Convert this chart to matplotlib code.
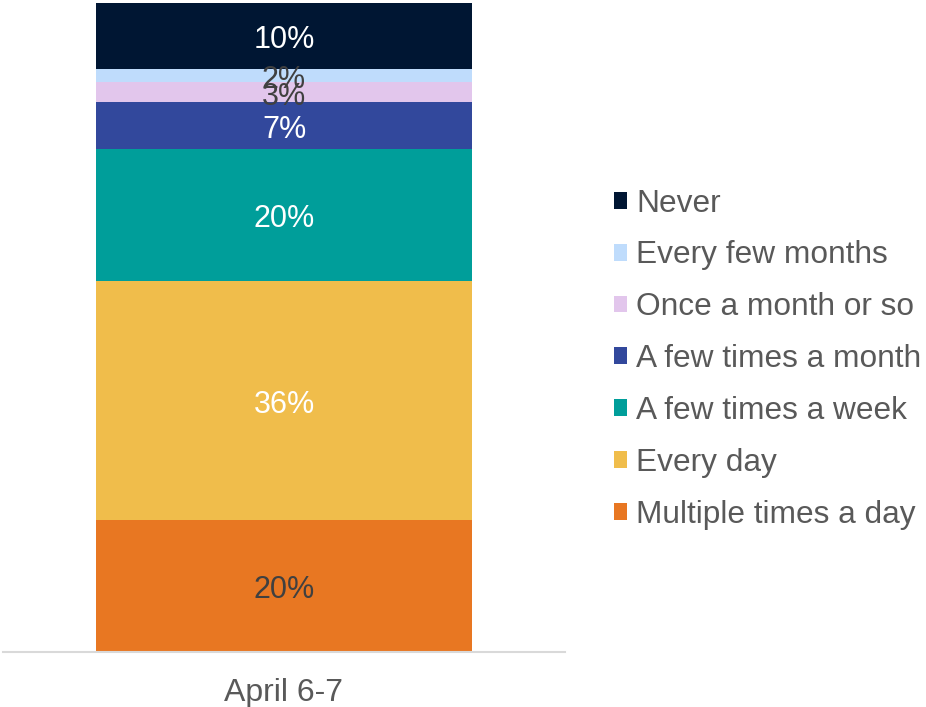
import matplotlib.pyplot as plt
from matplotlib.patches import Patch

plt.rcParams['font.family'] = ['Liberation Sans', 'DejaVu Sans']

# how often, share of respondents (%), stacked bottom to top
categories = ["Multiple times a day", "Every day", "A few times a week",
              "A few times a month", "Once a month or so", "Every few months", "Never"]
values = [20, 36, 20, 7, 3, 2, 10]
colors = ["#e87722", "#f0bd4b", "#009e9a", "#32489c", "#e2c6ec", "#bfdcfc", "#001633"]
label_colors = ["#404040", "white", "white", "white", "#404040", "#404040", "white"]
period = "April 6-7"

fig = plt.figure(figsize=(9.26, 7.07), dpi=100)
ax = fig.add_axes([3 / 926, 55 / 707, 562 / 926, 649 / 707])

bottom = 0
for cat, v, c, lc in zip(categories, values, colors, label_colors):
    ax.bar(0, v, width=0.669, bottom=bottom, color=c, label=cat)
    ax.annotate(f"{v}%", (0, bottom + v / 2), xytext=(0, -3),
                textcoords="offset points", ha="center", va="center",
                fontsize=22, color=lc)
    bottom += v

ax.set_xlim(-0.5, 0.5)
ax.set_ylim(0, sum(values))
ax.set_xticks([0])
ax.set_xticklabels([period], fontsize=23, color="#595959")
ax.tick_params(axis="x", length=0, pad=19)
ax.set_yticks([])
for s in ["top", "right", "left"]:
    ax.spines[s].set_visible(False)
ax.spines["bottom"].set_color("#d9d9d9")
ax.spines["bottom"].set_linewidth(1.5)

handles = [Patch(facecolor=c) for c in colors[::-1]]
leg = fig.legend(handles, categories[::-1], loc="center left",
                 bbox_to_anchor=(585 / 926, 0.492), frameon=False,
                 fontsize=22.8, labelcolor="#595959", handlelength=0.44,
                 handleheight=0.44, handletextpad=0.28, labelspacing=0.69)

fig.savefig("out.png", dpi=100)
